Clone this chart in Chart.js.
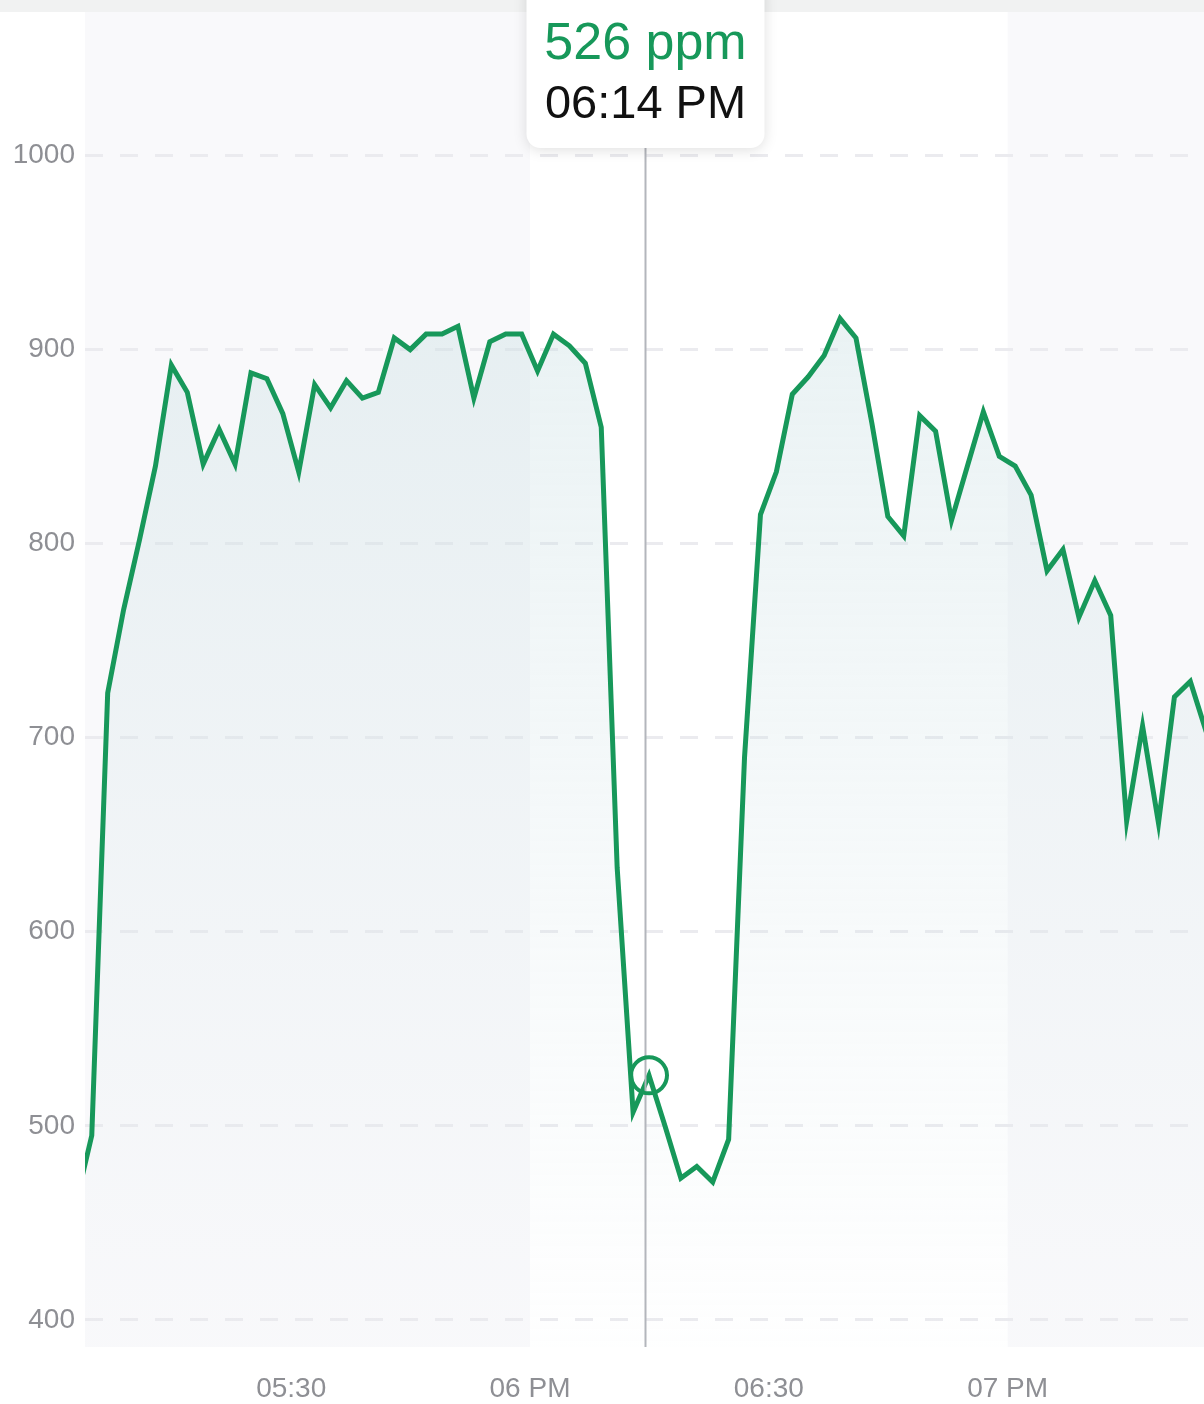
<!DOCTYPE html>
<html>
<head>
<meta charset="utf-8">
<script src="https://cdn.jsdelivr.net/npm/chart.js@4.4.1/dist/chart.umd.min.js"></script>
<style>
  html, body { margin: 0; padding: 0; background: #fff; }
</style>
</head>
<body>
<canvas id="co2Chart" width="1204" height="1404"></canvas>
<script>
// CO2 readings, one every two minutes
var times = [
  '17:02:57', '17:04:57', '17:06:57', '17:08:57', '17:10:57', '17:12:57', '17:14:57', '17:16:57',
  '17:18:57', '17:20:57', '17:22:57', '17:24:57', '17:26:57', '17:28:57', '17:30:57', '17:32:57',
  '17:34:57', '17:36:57', '17:38:57', '17:40:57', '17:42:57', '17:44:57', '17:46:57', '17:48:57',
  '17:50:57', '17:52:57', '17:54:57', '17:56:57', '17:58:57', '18:00:57', '18:02:57', '18:04:57',
  '18:06:57', '18:08:57', '18:10:57', '18:12:57', '18:14:57', '18:16:57', '18:18:57', '18:20:57',
  '18:22:57', '18:24:57', '18:26:57', '18:28:57', '18:30:57', '18:32:57', '18:34:57', '18:36:57',
  '18:38:57', '18:40:57', '18:42:57', '18:44:57', '18:46:57', '18:48:57', '18:50:57', '18:52:57',
  '18:54:57', '18:56:57', '18:58:57', '19:00:57', '19:02:57', '19:04:57', '19:06:57', '19:08:57',
  '19:10:57', '19:12:57', '19:14:57', '19:16:57', '19:18:57', '19:20:57', '19:22:57', '19:24:57'
];
var ppm = [
  460, 495, 723, 766, 802, 840, 892, 878, 841, 859, 841, 888, 885, 867, 837, 882,
  870, 884, 875, 878, 906, 900, 908, 908, 912, 875, 904, 908, 908, 889, 908, 902,
  893, 860, 633, 507, 526, 500, 473, 479, 471, 493, 690, 815, 837, 877, 886, 897,
  916, 906, 862, 814, 804, 866, 858, 812, 840, 868, 845, 840, 825, 786, 797, 762,
  781, 763, 657, 706, 656, 721, 729, 703
];
var tickTimes = ['17:30', '18:00', '18:30', '19:00'];
var tickLabels = ['05:30', '06 PM', '06:30', '07 PM'];
var gridValues = [400, 500, 600, 700, 800, 900, 1000];
var hoverTime = '18:14:57';
var viewStart = '17:04:06', viewEnd = '19:24:40';
var yMin = 386, yMax = 1074;

var green = '#17985a';
var fontFamily = "'Liberation Sans', Helvetica, Arial, sans-serif";
var labelFont = { family: fontFamily, size: 28 };

function toMinutes(str) {
  var p = str.split(':').map(Number);
  return p[0] * 60 + p[1] + (p[2] || 0) / 60;
}

function clockLabel(str) {
  var p = str.split(':').map(Number);
  var h = p[0] % 12 || 12;
  var pad = function (n) { return (n < 10 ? '0' : '') + n; };
  return pad(h) + ':' + pad(p[1]) + (p[0] >= 12 ? ' PM' : ' AM');
}

var points = times.map(function (t, i) { return { x: toMinutes(t), y: ppm[i] }; });
var hoverIndex = times.indexOf(hoverTime);

let fillGradient, fillHeight;
function getFill(ctx, area) {
  if (!fillGradient || fillHeight !== area.bottom) {
    fillHeight = area.bottom;
    fillGradient = ctx.createLinearGradient(0, area.top + 300, 0, area.bottom);
    fillGradient.addColorStop(0, 'rgba(196, 220, 224, 0.36)');
    fillGradient.addColorStop(1, 'rgba(210, 225, 230, 0.02)');
  }
  return fillGradient;
}

// gray header strip and alternating hour bands behind the plot
const backdrop = {
  id: 'backdrop',
  beforeDraw(chart) {
    const { ctx, chartArea, scales } = chart;
    ctx.save();
    ctx.fillStyle = '#f1f2f2';
    ctx.fillRect(0, 0, chart.width, chartArea.top);
    const x = scales.x;
    for (let h = Math.floor(x.min / 60); h * 60 < x.max; h++) {
      if (h % 2 === 0) continue;
      const left = Math.max(chartArea.left, x.getPixelForValue(h * 60));
      const right = Math.min(chartArea.right, x.getPixelForValue((h + 1) * 60));
      ctx.fillStyle = '#f9f9fb';
      ctx.fillRect(left, chartArea.top, right - left, chartArea.bottom - chartArea.top);
    }
    ctx.restore();
  }
};

// crosshair, highlighted reading and the value box on top
const hoverMarker = {
  id: 'hoverMarker',
  afterDraw(chart) {
    if (hoverIndex < 0) return;
    const { ctx, chartArea, scales } = chart;
    const pt = chart.getDatasetMeta(0).data[hoverIndex];
    const lineX = Math.round(scales.x.getPixelForValue(Math.floor(toMinutes(hoverTime)) + 0.5)) + 0.5;
    const boxW = 238, boxBottom = 148, boxTop = -20;

    ctx.save();
    ctx.strokeStyle = '#b3b6bc';
    ctx.lineWidth = 2;
    ctx.beginPath();
    ctx.moveTo(lineX, boxBottom);
    ctx.lineTo(lineX, chartArea.bottom);
    ctx.stroke();

    ctx.strokeStyle = green;
    ctx.lineWidth = 4;
    ctx.beginPath();
    ctx.arc(pt.x, pt.y, 18, 0, Math.PI * 2);
    ctx.stroke();

    ctx.shadowColor = 'rgba(0, 0, 0, 0.13)';
    ctx.shadowBlur = 14;
    ctx.shadowOffsetY = 2;
    ctx.fillStyle = '#ffffff';
    ctx.beginPath();
    ctx.roundRect(lineX - boxW / 2, boxTop, boxW, boxBottom - boxTop, 14);
    ctx.fill();
    ctx.shadowColor = 'transparent';

    ctx.textAlign = 'center';
    ctx.textBaseline = 'alphabetic';
    ctx.fillStyle = green;
    ctx.font = '52px ' + fontFamily;
    ctx.fillText(ppm[hoverIndex] + ' ppm', lineX, 59);
    ctx.fillStyle = '#111111';
    ctx.font = '47px ' + fontFamily;
    ctx.fillText(clockLabel(hoverTime), lineX, 118);
    ctx.restore();
  }
};

new Chart(document.getElementById('co2Chart'), {
  type: 'line',
  data: {
    datasets: [{
      label: 'CO2',
      data: points,
      borderColor: green,
      borderWidth: 5,
      borderJoinStyle: 'miter',
      tension: 0,
      pointRadius: 0,
      clip: 0,
      fill: 'start',
      backgroundColor: function (context) {
        const { ctx, chartArea } = context.chart;
        if (!chartArea) return;
        return getFill(ctx, chartArea);
      }
    }]
  },
  options: {
    responsive: false,
    animation: false,
    layout: { padding: { top: 12, right: 0, bottom: 0, left: 0 } },
    plugins: { legend: { display: false }, tooltip: { enabled: false } },
    scales: {
      x: {
        type: 'linear',
        min: toMinutes(viewStart),
        max: toMinutes(viewEnd),
        afterFit: function (scale) {
          scale.height = 57;
          scale.paddingLeft = 0;
          scale.paddingRight = 0;
        },
        afterBuildTicks: function (scale) {
          scale.ticks = tickTimes.map(function (t) { return { value: toMinutes(t) }; });
        },
        grid: { display: false },
        border: { display: false },
        ticks: {
          padding: 17,
          maxRotation: 0,
          color: '#8e8f94',
          font: labelFont,
          callback: function (value) {
            var i = tickTimes.map(toMinutes).indexOf(value);
            return i >= 0 ? tickLabels[i] : '';
          }
        }
      },
      y: {
        min: yMin,
        max: yMax,
        afterFit: function (scale) {
          scale.width = 85;
          scale.paddingTop = 0;
          scale.paddingBottom = 0;
        },
        afterBuildTicks: function (scale) {
          scale.ticks = gridValues.map(function (v) { return { value: v }; });
        },
        grid: {
          color: '#ebebef',
          lineWidth: 3,
          drawTicks: false
        },
        border: { display: false, dash: [18, 17] },
        ticks: {
          padding: 10,
          color: '#8e8f94',
          font: labelFont,
          callback: function (value) { return String(value); }
        }
      }
    }
  },
  plugins: [backdrop, hoverMarker]
});
</script>
</body>
</html>
